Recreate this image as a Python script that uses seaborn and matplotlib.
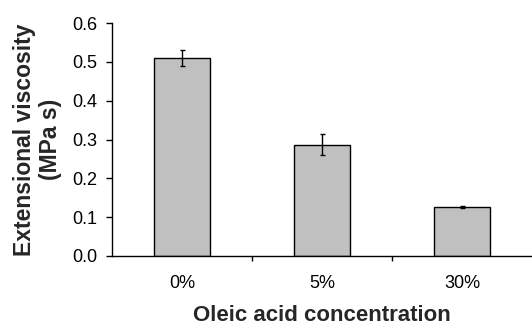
import matplotlib
matplotlib.use("Agg")
import matplotlib.pyplot as plt
import seaborn as sns

# Data
concentrations = ["0%", "5%", "30%"]
viscosity = [0.51, 0.286, 0.127]
viscosity_err = [0.020, 0.027, 0.003]

sns.set_style("ticks")
plt.rcParams["font.family"] = ["Liberation Sans", "DejaVu Sans"]

fig = plt.figure(figsize=(5.32, 3.27), dpi=100)
ax = fig.add_axes([112 / 532, 71 / 327, 420 / 532, 233 / 327])

sns.barplot(x=concentrations, y=viscosity, color="#c0c0c0", edgecolor="black",
            linewidth=1, width=0.405, saturation=1, errorbar=None, ax=ax)
ax.errorbar(range(len(viscosity)), viscosity, yerr=viscosity_err, fmt="none",
            ecolor="black", elinewidth=1, capsize=1.8, capthick=1)

ax.set_xlim(-0.5, 2.5)
ax.set_ylim(0, 0.6)
ax.set_yticks([0.0, 0.1, 0.2, 0.3, 0.4, 0.5, 0.6])
ax.set_yticklabels([f"{v:.1f}" for v in ax.get_yticks()])
ax.set_xticks([0.5, 1.5], minor=True)

for side in ["top", "right"]:
    ax.spines[side].set_visible(False)
for side in ["left", "bottom"]:
    ax.spines[side].set_linewidth(1)
    ax.spines[side].set_color("black")

ax.tick_params(axis="y", length=4.3, width=1, labelsize=13, pad=6, colors="black")
ax.tick_params(axis="x", which="major", length=0, labelsize=13, pad=14, colors="black")
ax.tick_params(axis="x", which="minor", length=3.8, width=1, colors="black")

ax.set_xlabel("Oleic acid concentration", fontsize=16, fontweight="bold")
ax.set_ylabel("Extensional viscosity\n(MPa s)", fontsize=16.5, fontweight="bold",
              linespacing=1.15)
ax.xaxis.set_label_coords(0.5, -0.212)
ax.yaxis.set_label_coords(-0.12, 0.5)

fig.savefig("out.png", dpi=100)
